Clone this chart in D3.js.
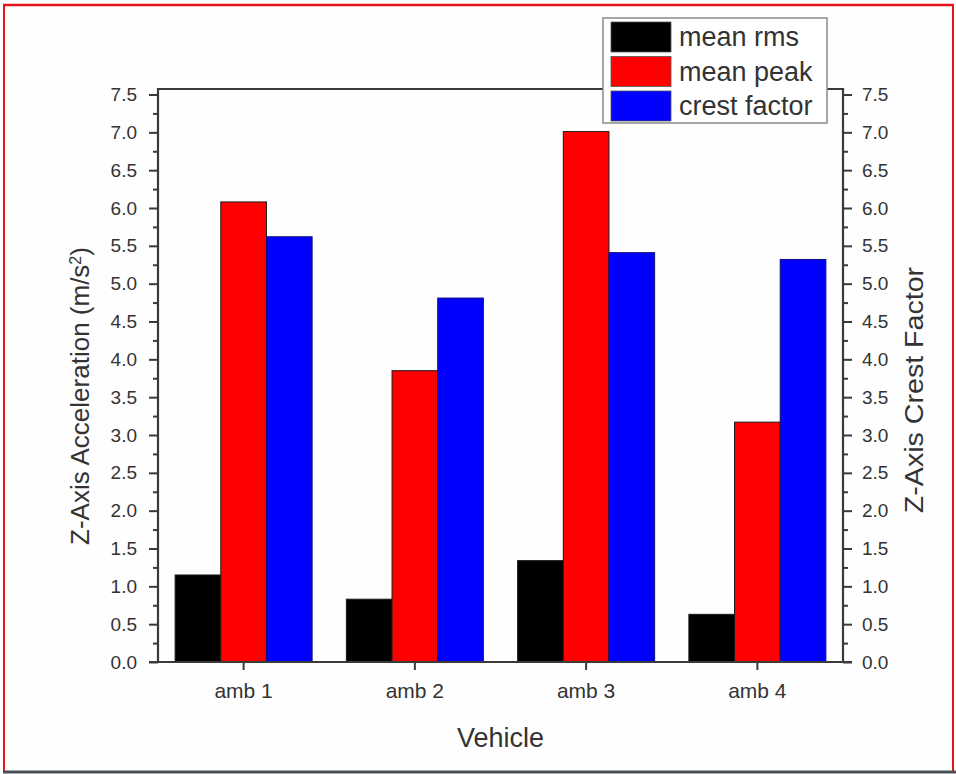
<!DOCTYPE html>
<html>
<head>
<meta charset="utf-8">
<script src="https://cdn.jsdelivr.net/npm/d3@7"></script>
<style>
  html, body { margin: 0; padding: 0; background: #ffffff; }
  svg { display: block; font-family: "Liberation Sans", Arial, sans-serif; }
</style>
</head>
<body>
<svg id="chart" width="956" height="774"></svg>
<script>
const categories = ["amb 1", "amb 2", "amb 3", "amb 4"];
const seriesNames = ["mean rms", "mean peak", "crest factor"];
const meanRms = [1.15, 0.83, 1.34, 0.63];
const meanPeak = [6.08, 3.85, 7.01, 3.17];
const crestFactor = [5.62, 4.81, 5.41, 5.32];
const seriesColors = ["#000000", "#ff0000", "#0000ff"];
const majorTicks = [0, 0.5, 1.0, 1.5, 2.0, 2.5, 3.0, 3.5, 4.0, 4.5, 5.0, 5.5, 6.0, 6.5, 7.0, 7.5];
const minorTicks = [0.25, 0.75, 1.25, 1.75, 2.25, 2.75, 3.25, 3.75, 4.25, 4.75, 5.25, 5.75, 6.25, 6.75, 7.25];

const seriesValues = [meanRms, meanPeak, crestFactor];

const svg = d3.select("#chart");
const W = 956, H = 774;
const L = 158, R = 843, T = 89, B = 662;
const textColor = "#333";

// outer frame
svg.append("rect").attr("x", 0).attr("y", 0).attr("width", W).attr("height", H).attr("fill", "#fefefe");
svg.append("line").attr("x1", 3).attr("x2", 954).attr("y1", 5).attr("y2", 5).attr("stroke", "#e8141b").attr("stroke-width", 2.5);
svg.append("line").attr("x1", 4).attr("x2", 4).attr("y1", 4).attr("y2", 771).attr("stroke", "#e8141b").attr("stroke-width", 2);
svg.append("line").attr("x1", 953).attr("x2", 953).attr("y1", 4).attr("y2", 771).attr("stroke", "#e8141b").attr("stroke-width", 2);
svg.append("line").attr("x1", 3).attr("x2", 956).attr("y1", 772).attr("y2", 772).attr("stroke", "#4a4f55").attr("stroke-width", 3);

const y = d3.scaleLinear().domain([0, 7.5]).range([B, 94.5]);
const x = d3.scaleBand().domain(categories).range([L, R]).paddingInner(0).paddingOuter(0);
const groupW = x.bandwidth() * 0.8;
const xs = d3.scaleBand().domain(seriesNames).range([0, groupW]).padding(0);

// bars
const g = svg.append("g");
seriesNames.forEach((s, si) => {
  g.selectAll(null).data(categories).enter().append("rect")
    .attr("x", (c) => x(c) + x.bandwidth() * 0.1 + xs(s))
    .attr("y", (c, i) => y(seriesValues[si][i]))
    .attr("width", xs.bandwidth())
    .attr("height", (c, i) => B - y(seriesValues[si][i]))
    .attr("fill", seriesColors[si])
    .attr("stroke", si === 2 ? "#10107a" : "#1a1a1a")
    .attr("stroke-width", 1);
});

const axisColor = "#3a3a3a";
const fmt = d3.format(".1f");

function styleAxis(sel, fs) {
  sel.select(".domain").remove();
  sel.selectAll("line").attr("stroke", axisColor).attr("stroke-width", 2);
  sel.selectAll("text").attr("fill", textColor).style("font-size", fs + "px");
}

// left axis
const la = svg.append("g").attr("transform", `translate(${L},0)`)
  .call(d3.axisLeft(y).tickValues(majorTicks).tickSize(9).tickPadding(12).tickFormat(fmt));
styleAxis(la, 19);
const lm = svg.append("g").attr("transform", `translate(${L},0)`)
  .call(d3.axisLeft(y).tickValues(minorTicks).tickSize(5).tickFormat(""));
styleAxis(lm, 19);

// right axis
const ra = svg.append("g").attr("transform", `translate(${R},0)`)
  .call(d3.axisRight(y).tickValues(majorTicks).tickSize(9).tickPadding(10).tickFormat(fmt));
styleAxis(ra, 19);
const rm = svg.append("g").attr("transform", `translate(${R},0)`)
  .call(d3.axisRight(y).tickValues(minorTicks).tickSize(5).tickFormat(""));
styleAxis(rm, 19);

// bottom axis
const ba = svg.append("g").attr("transform", `translate(0,${B})`)
  .call(d3.axisBottom(x).tickSize(8).tickPadding(13));
styleAxis(ba, 21);

// frame lines
svg.append("path")
  .attr("d", `M${L},${B}V${T}H${R}V${B}`)
  .attr("fill", "none").attr("stroke", axisColor).attr("stroke-width", 2.2);
svg.append("line").attr("x1", L - 9).attr("x2", R + 9).attr("y1", B).attr("y2", B)
  .attr("stroke", axisColor).attr("stroke-width", 2.2);

// titles
svg.append("text").attr("x", (L + R) / 2).attr("y", 747).attr("text-anchor", "middle")
  .attr("fill", textColor).style("font-size", "27px").text("Vehicle");

const lt = svg.append("text").attr("transform", `translate(89,396) rotate(-90)`)
  .attr("text-anchor", "middle").attr("fill", textColor).style("font-size", "26px");
lt.append("tspan").text("Z-Axis Acceleration (m/s");
lt.append("tspan").attr("baseline-shift", "super").style("font-size", "16px").text("2");
lt.append("tspan").text(")");

svg.append("text").attr("transform", `translate(923,390) rotate(-90) scale(1.1,1)`)
  .attr("text-anchor", "middle").attr("fill", textColor).style("font-size", "26px")
  .text("Z-Axis Crest Factor");

// legend
const lg = svg.append("g");
lg.append("rect").attr("x", 603).attr("y", 18).attr("width", 224).attr("height", 105)
  .attr("fill", "#ffffff").attr("stroke", "#8a8a8a").attr("stroke-width", 1.5);
seriesNames.forEach((s, i) => {
  const ry = 22 + i * 34.5;
  lg.append("rect").attr("x", 611).attr("y", ry).attr("width", 60).attr("height", 30)
    .attr("fill", seriesColors[i]).attr("stroke", "#555").attr("stroke-width", 0.8);
  lg.append("text").attr("x", 679).attr("y", ry + 24).attr("fill", textColor)
    .style("font-size", "27px").text(s);
});
</script>
</body>
</html>
